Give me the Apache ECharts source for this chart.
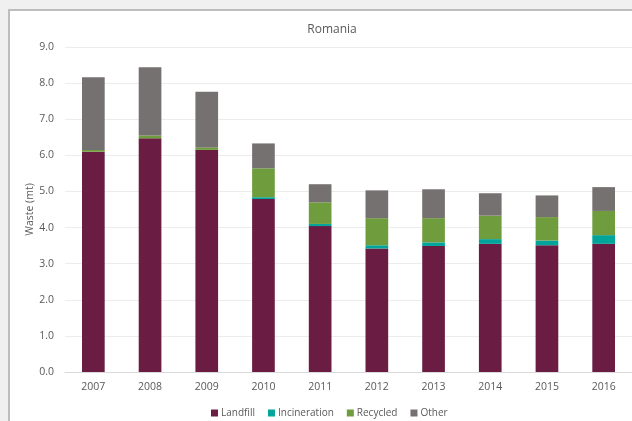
<!DOCTYPE html>
<html>
<head>
<meta charset="utf-8">
<script src="https://cdn.jsdelivr.net/npm/echarts@6/dist/echarts.min.js"></script>
<style>
  html, body { margin: 0; padding: 0; background: #f0f0f0; width: 632px; height: 421px; overflow: hidden; }
  #frame { position: absolute; left: 8px; top: 9px; width: 700px; height: 500px; background: #fff; border: 2px solid #bdbdbd; }
  #chart { position: absolute; left: 0; top: 0; width: 632px; height: 421px; }
</style>
</head>
<body>
<div id="frame"></div>
<div id="chart"></div>
<script>
// Municipal waste treatment in Romania, million tonnes
const years = ['2007', '2008', '2009', '2010', '2011', '2012', '2013', '2014', '2015', '2016'];
const landfill     = [6.10, 6.47, 6.15, 4.79, 4.04, 3.42, 3.49, 3.55, 3.51, 3.55];
const incineration = [0.00, 0.00, 0.00, 0.05, 0.06, 0.09, 0.10, 0.13, 0.13, 0.24];
const recycled     = [0.05, 0.08, 0.07, 0.80, 0.60, 0.75, 0.67, 0.65, 0.65, 0.67];
const other        = [2.01, 1.89, 1.54, 0.69, 0.50, 0.77, 0.80, 0.62, 0.60, 0.66];

const font = '"Open Sans", "Liberation Sans", sans-serif';
const textColor = '#595959';

function bar(name, data, color) {
  return {
    name: name,
    type: 'bar',
    stack: 'waste',
    data: data,
    barWidth: '40%',
    itemStyle: { color: color },
    emphasis: { disabled: true }
  };
}

const chart = echarts.init(document.getElementById('chart'), null, { renderer: 'canvas' });
chart.setOption({
  animation: false,
  backgroundColor: 'transparent',
  title: {
    text: 'Romania',
    left: 327,
    top: 19,
    textAlign: 'center',
    textStyle: { fontFamily: font, fontSize: 12, fontWeight: 'normal', color: textColor }
  },
  legend: {
    top: 403,
    left: 206,
    itemWidth: 7,
    itemHeight: 7,
    itemGap: 13,
    icon: 'rect',
    textStyle: { fontFamily: font, fontSize: 10, color: textColor, padding: [0, 0, 0, -2] },
    data: ['Landfill', 'Incineration', 'Recycled', 'Other']
  },
  grid: { left: 65, top: 47, bottom: 49, width: 571, containLabel: false },
  xAxis: {
    type: 'category',
    data: years,
    axisLine: { lineStyle: { color: '#d9d9d9' } },
    axisTick: { show: false },
    axisLabel: { fontFamily: font, fontSize: 10.5, color: textColor, margin: 10 }
  },
  yAxis: {
    type: 'value',
    min: 0,
    max: 9,
    interval: 1,
    name: 'Waste (mt)',
    nameLocation: 'middle',
    nameGap: 29,
    nameMoveOverlap: false,
    nameTextStyle: { fontFamily: font, fontSize: 10.5, color: textColor },
    axisLine: { show: false },
    axisTick: { show: false },
    splitLine: { lineStyle: { color: '#ececec' } },
    axisLabel: {
      fontFamily: font, fontSize: 10.5, color: textColor, margin: 11,
      formatter: v => v.toFixed(1)
    }
  },
  series: [
    bar('Landfill', landfill, '#6a1c42'),
    bar('Incineration', incineration, '#00a49b'),
    bar('Recycled', recycled, '#6f9d3d'),
    bar('Other', other, '#767171')
  ]
});
</script>
</body>
</html>
